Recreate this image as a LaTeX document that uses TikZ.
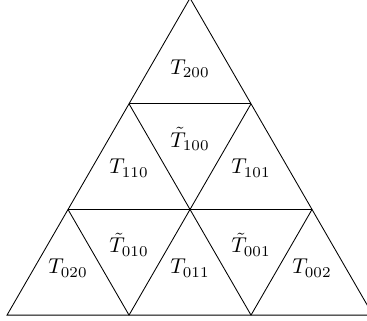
\documentclass[tikz,border=0pt]{standalone}
\begin{document}
\begin{tikzpicture}[edge/.style={draw=black,line width=0.4pt}, lab/.style={inner sep=0pt}]
\useasboundingbox (-0.115,-0.08) rectangle ++(6.0164,5.2459);
\coordinate (v00) at (0,0);
\coordinate (v10) at (2,0);
\coordinate (v20) at (4,0);
\coordinate (v30) at (6,0);
\coordinate (v01) at (1,1.7321);
\coordinate (v11) at (3,1.7321);
\coordinate (v21) at (5,1.7321);
\coordinate (v02) at (2,3.4641);
\coordinate (v12) at (4,3.4641);
\coordinate (v03) at (3,5.1962);
\path[edge] (v00) -- (v30) -- (v03) -- cycle;
\path[edge] (v01) -- (v21);
\path[edge] (v02) -- (v12);
\path[edge] (v10) -- (v12);
\path[edge] (v20) -- (v21);
\path[edge] (v20) -- (v02);
\path[edge] (v10) -- (v01);
\node[lab] (t200) at (3,4.04) {$T_{200}$};
\node[lab] (u100) at (3,2.887) {$\tilde{T}_{100}$};
\node[lab] (t110) at (2,2.41) {$T_{110}$};
\node[lab] (t101) at (4,2.41) {$T_{101}$};
\node[lab] (t020) at (1,0.77) {$T_{020}$};
\node[lab] (u010) at (2,1.155) {$\tilde{T}_{010}$};
\node[lab] (t011) at (3,0.77) {$T_{011}$};
\node[lab] (u001) at (4,1.155) {$\tilde{T}_{001}$};
\node[lab] (t002) at (5,0.77) {$T_{002}$};
\end{tikzpicture}
\end{document}
